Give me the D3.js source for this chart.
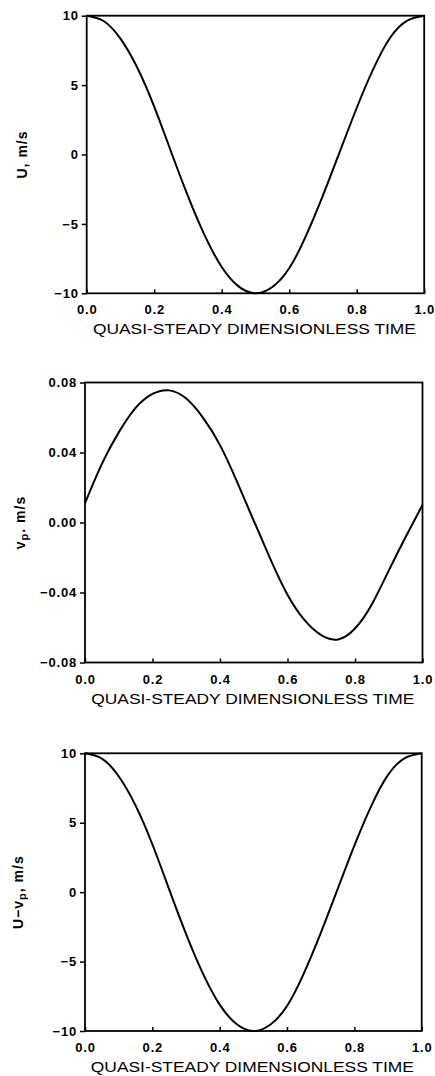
<!DOCTYPE html>
<html>
<head>
<meta charset="utf-8">
<script src="https://cdn.jsdelivr.net/npm/d3@7"></script>
<style>
  html, body { margin: 0; padding: 0; background: #fff; }
  svg { display: block; }
  text { font-family: "Liberation Sans", Arial, sans-serif; fill: #000; }
</style>
</head>
<body>
<svg id="chart" width="435" height="1076"></svg>
<script>
// ---------- data ----------
const timeValues = [0, 0.05, 0.10, 0.15, 0.20, 0.25, 0.30, 0.35, 0.40, 0.45, 0.50,
                    0.55, 0.60, 0.65, 0.70, 0.75, 0.80, 0.85, 0.90, 0.95, 1.00];
const uValues = [10, 9.62, 8.35, 6.25, 3.45, 0.2, -3.0, -5.85, -8.1, -9.5, -10,
                 -9.55, -8.2, -5.85, -2.95, 0.2, 3.35, 6.2, 8.45, 9.65, 10];
const vpValues = [0.011, 0.0335, 0.0515, 0.0655, 0.0735, 0.0755, 0.0708, 0.0598, 0.0442, 0.0235, 0.0010,
                  -0.0212, -0.0413, -0.0557, -0.0644, -0.0668, -0.0606, -0.0467, -0.0275, -0.0083, 0.010];
const uMinusVpValues = [10, 9.62, 8.35, 6.25, 3.45, 0.2, -3.0, -5.85, -8.1, -9.5, -10,
                        -9.55, -8.2, -5.85, -2.95, 0.2, 3.35, 6.2, 8.45, 9.65, 10];
const xTicks = [0, 0.2, 0.4, 0.6, 0.8, 1.0];
const uTicks = [-10, -5, 0, 5, 10];
const vpTicks = [-0.08, -0.04, 0, 0.04, 0.08];
const xTitle = "QUASI-STEADY DIMENSIONLESS TIME";

// ---------- panel layout ----------
const panels = [
  { values: uValues, yDomain: [-10, 10], yTicks: uTicks, yFmt: d3.format(".0f"),
    box: { left: 86.7, right: 424.2, top: 15.7, bottom: 293.3 }, yTitleX: 22,
    yTitle: [{t: "U, m/s"}] },
  { values: vpValues, yDomain: [-0.08, 0.08], yTicks: vpTicks, yFmt: d3.format(".2f"),
    box: { left: 85, right: 422.5, top: 382.5, bottom: 662.5 }, yTitleX: 20,
    yTitle: [{t: "v"}, {t: "p", sub: true}, {t: ". m/s"}] },
  { values: uMinusVpValues, yDomain: [-10, 10], yTicks: uTicks, yFmt: d3.format(".0f"),
    box: { left: 85, right: 421.7, top: 753.3, bottom: 1031 }, yTitleX: 18,
    yTitle: [{t: "U\u2212v"}, {t: "p", sub: true}, {t: ", m/s"}] }
];

const svg = d3.select("#chart");
const minus = s => s.replace("-", "\u2212");

panels.forEach(p => {
  const b = p.box;
  const x = d3.scaleLinear().domain([0, 1]).range([b.left, b.right]);
  const y = d3.scaleLinear().domain(p.yDomain).range([b.bottom, b.top]);
  const g = svg.append("g");

  // frame
  g.append("rect")
    .attr("x", b.left).attr("y", b.top)
    .attr("width", b.right - b.left).attr("height", b.bottom - b.top)
    .attr("fill", "none").attr("stroke", "#000").attr("stroke-width", 1.8);

  // x axis: ticks pointing inward
  const xAxis = d3.axisBottom(x).tickValues(xTicks).tickSize(-4).tickPadding(0)
    .tickFormat(d3.format(".1f"));
  const gx = g.append("g").attr("transform", `translate(0,${b.bottom})`).call(xAxis);
  gx.select(".domain").remove();
  gx.selectAll(".tick line").attr("stroke", "#000").attr("stroke-width", 1.5);
  gx.selectAll(".tick text")
    .attr("y", 21).attr("dy", 0)
    .style("font-size", "13px").style("font-weight", "bold")
    .style("letter-spacing", "0.8px");

  // y axis: ticks pointing outward
  const yAxis = d3.axisLeft(y).tickValues(p.yTicks).tickSize(5).tickPadding(3)
    .tickFormat(d => minus(p.yFmt(d)));
  const gy = g.append("g").attr("transform", `translate(${b.left},0)`).call(yAxis);
  gy.select(".domain").remove();
  gy.selectAll(".tick line").attr("stroke", "#000").attr("stroke-width", 1.5);
  gy.selectAll(".tick text")
    .style("font-size", "13px").style("font-weight", "bold")
    .style("letter-spacing", "0.8px");

  // x title
  g.append("text")
    .attr("x", (b.left + b.right) / 2 - 1)
    .attr("y", b.bottom + 41)
    .attr("text-anchor", "middle")
    .attr("textLength", 323).attr("lengthAdjust", "spacingAndGlyphs")
    .style("font-size", "14px")
    .text(xTitle);

  // y title (rotated)
  const yt = g.append("text")
    .attr("transform", `translate(${p.yTitleX},${(b.top + b.bottom) / 2}) rotate(-90)`)
    .attr("text-anchor", "middle").attr("dy", "0.35em")
    .style("font-size", "14px").style("font-weight", "bold")
    .style("letter-spacing", "1px");
  p.yTitle.forEach(part => {
    const ts = yt.append("tspan").text(part.t);
    if (part.sub) ts.attr("baseline-shift", "-30%").style("font-size", "11px");
  });

  // curve
  const line = d3.line()
    .x((d, i) => x(timeValues[i]))
    .y(d => y(d))
    .curve(d3.curveNatural);
  g.append("path")
    .datum(p.values)
    .attr("d", line)
    .attr("fill", "none").attr("stroke", "#000").attr("stroke-width", 2);
});
</script>
</body>
</html>
